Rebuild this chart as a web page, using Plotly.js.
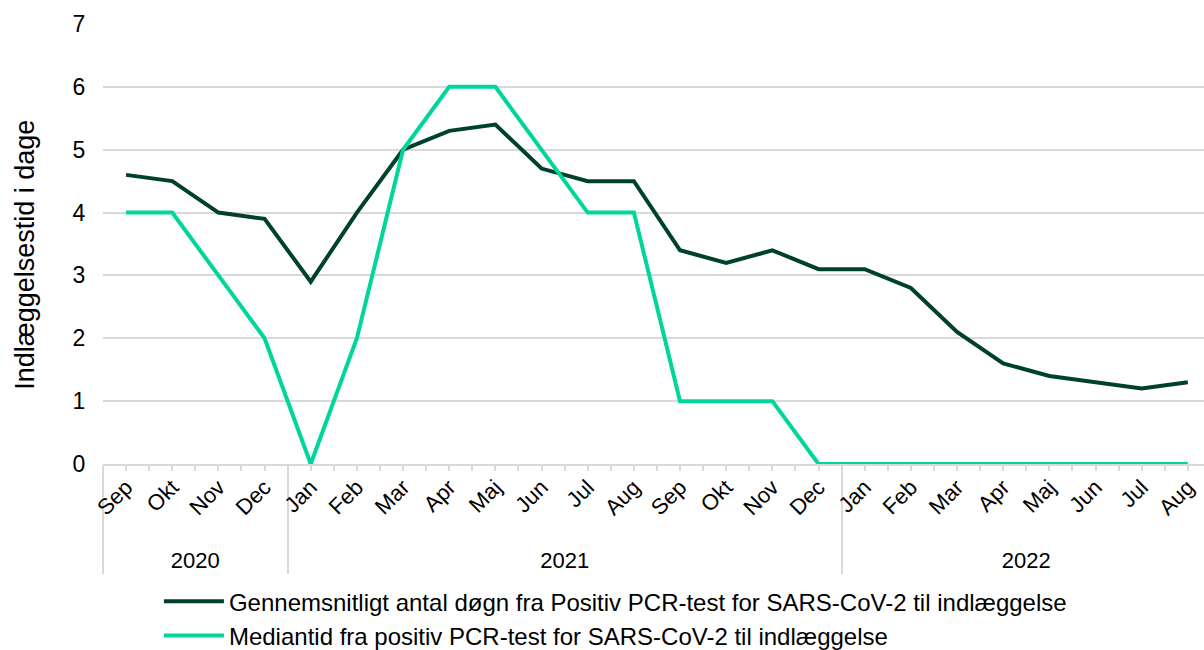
<!DOCTYPE html>
<html>
<head>
<meta charset="utf-8">
<script src="https://cdn.plot.ly/plotly-3.0.1.min.js"></script>
<style>
  html, body { margin: 0; padding: 0; background: #fff; }
  #chart { width: 1204px; height: 650px; }
</style>
</head>
<body>
<div id="chart"></div>
<script>
// Indlæggelsestid - positiv PCR-test til indlæggelse

const years = [
    '2020', '2020', '2020', '2020',
    '2021', '2021', '2021', '2021', '2021', '2021', '2021', '2021', '2021', '2021', '2021', '2021',
    '2022', '2022', '2022', '2022', '2022', '2022', '2022', '2022'
];
const months = [
    'Sep', 'Okt', 'Nov', 'Dec',
    'Jan', 'Feb', 'Mar', 'Apr', 'Maj', 'Jun', 'Jul', 'Aug', 'Sep', 'Okt', 'Nov', 'Dec',
    'Jan', 'Feb', 'Mar', 'Apr', 'Maj', 'Jun', 'Jul', 'Aug'
];
const avgDays = [4.6, 4.5, 4.0, 3.9, 2.9, 4.0, 5.0, 5.3, 5.4, 4.7, 4.5, 4.5,
                 3.4, 3.2, 3.4, 3.1, 3.1, 2.8, 2.1, 1.6, 1.4, 1.3, 1.2, 1.3];
const medianDays = [4, 4, 3, 2, 0, 2, 5, 6, 6, 5, 4, 4,
                    1, 1, 1, 0, 0, 0, 0, 0, 0, 0, 0, 0];

const avgName = 'Gennemsnitligt antal døgn fra Positiv PCR-test for SARS-CoV-2 til indlæggelse';
const medianName = 'Mediantid fra positiv PCR-test for SARS-CoV-2 til indlæggelse';
const yTitle = 'Indlæggelsestid i dage';

const darkGreen = '#00402f';
const lightGreen = '#00d69b';
const gridGrey = '#d9d9d9';
const fontFamily = 'Liberation Sans, Arial, sans-serif';

// plotly orders multicategory sub-labels by first appearance, so months that
// come back later (Sep-Dec 2021) get an invisible zero-width space to stay in place
const seenMonths = {};
const monthKeys = months.map(m => {
    const key = seenMonths[m] ? m + '\u200B' : m;
    seenMonths[m] = true;
    return key;
});

const xRange = [-0.5, 23.35];
const tickPos = months.map((m, i) => i);

const traces = [
    {
        x: [years, monthKeys],
        y: avgDays,
        type: 'scatter',
        mode: 'lines',
        name: avgName,
        line: { color: darkGreen, width: 4 }
    },
    {
        x: [years, monthKeys],
        y: medianDays,
        type: 'scatter',
        mode: 'lines',
        name: medianName,
        line: { color: lightGreen, width: 4 }
    },
    // invisible helper so the half-category tick axis gets drawn
    {
        x: tickPos,
        y: medianDays,
        xaxis: 'x2',
        type: 'scatter',
        mode: 'lines',
        line: { width: 0 },
        opacity: 0,
        showlegend: false,
        hoverinfo: 'skip'
    }
];

const layout = {
    width: 1204,
    height: 650,
    paper_bgcolor: '#ffffff',
    plot_bgcolor: '#ffffff',
    font: { family: fontFamily, size: 22, color: '#000000' },
    margin: { l: 103, r: 0, t: 24, b: 186, autoexpand: false },
    showlegend: true,
    legend: {
        orientation: 'v',
        xref: 'container',
        yref: 'container',
        x: 0.132,
        y: 0.109,
        xanchor: 'left',
        yanchor: 'top',
        itemwidth: 60,
        tracegroupgap: 0,
        font: { family: fontFamily, size: 24, color: '#000000' }
    },
    xaxis: {
        type: 'multicategory',
        range: xRange,
        tickangle: -45,
        ticks: '',
        showgrid: false,
        showline: true,
        linecolor: gridGrey,
        linewidth: 1.5,
        showdividers: true,
        dividercolor: gridGrey,
        dividerwidth: 1.5,
        tickfont: { family: fontFamily, size: 22, color: '#000000' }
    },
    xaxis2: {
        type: 'linear',
        overlaying: 'x',
        anchor: 'y',
        side: 'bottom',
        range: xRange,
        tick0: -0.5,
        dtick: 0.5,
        ticks: 'outside',
        ticklen: 6,
        tickwidth: 1.5,
        tickcolor: gridGrey,
        showticklabels: false,
        showgrid: false,
        showline: false,
        zeroline: false
    },
    yaxis: {
        range: [0, 7],
        dtick: 1,
        showgrid: true,
        gridcolor: gridGrey,
        gridwidth: 1.5,
        zeroline: false,
        showline: false,
        ticks: 'outside',
        ticklen: 12,
        tickcolor: 'rgba(0,0,0,0)',
        tickfont: { family: fontFamily, size: 23, color: '#000000' }
    },
    // y title as an annotation; the axis title gets pushed off by the multicategory labels
    annotations: [{
        text: yTitle,
        xref: 'paper',
        yref: 'paper',
        x: -0.071,
        y: 0.475,
        xanchor: 'center',
        yanchor: 'middle',
        textangle: -90,
        showarrow: false,
        font: { family: fontFamily, size: 27, color: '#000000' }
    }]
};

Plotly.newPlot('chart', traces, layout, { displayModeBar: false, responsive: false });
</script>
</body>
</html>
